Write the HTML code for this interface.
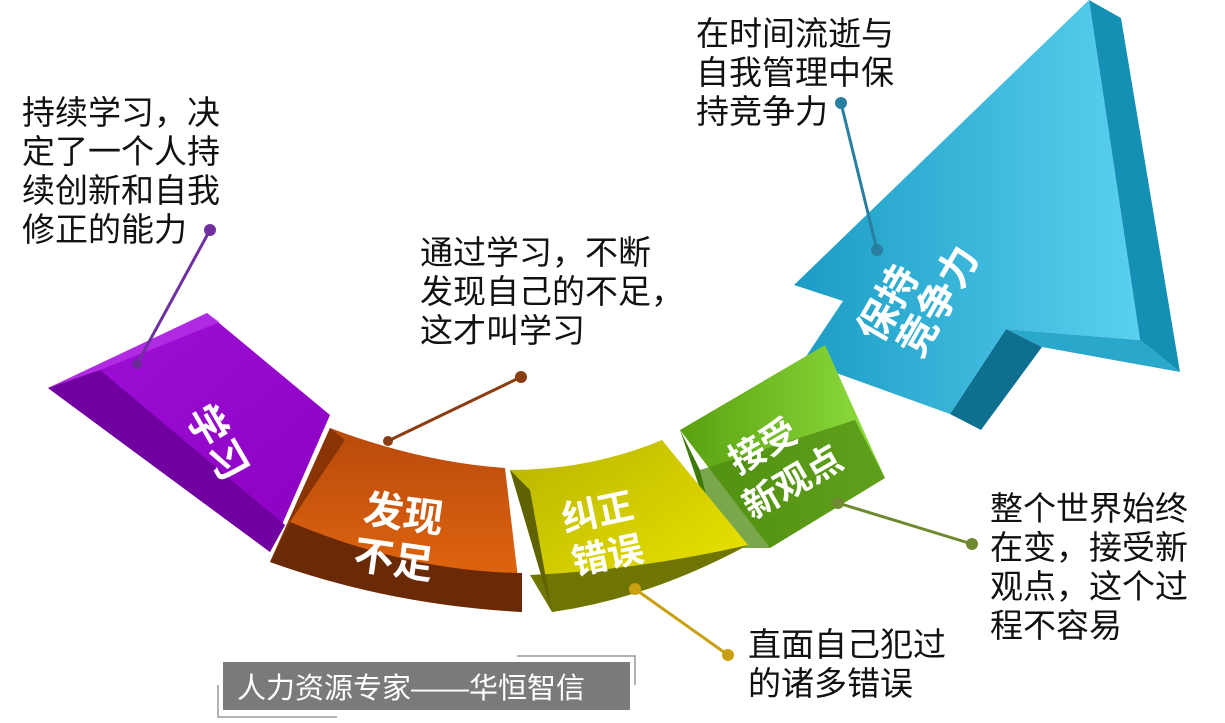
<!DOCTYPE html>
<html><head><meta charset="utf-8"><style>
body{margin:0;width:1225px;height:723px;background:#fff;overflow:hidden;position:relative;font-family:"Liberation Sans","Noto Sans CJK SC",sans-serif}
.t{position:absolute;font-size:33px;line-height:39px;color:#111;white-space:nowrap}
svg{position:absolute;left:0;top:0}
</style></head><body>
<svg width="1225" height="723" viewBox="0 0 1225 723">
<defs>
<linearGradient id="bl" x1="0" y1="0" x2="1" y2="0"><stop offset="0" stop-color="#1b9cc4"/><stop offset="1" stop-color="#5ad0f0"/></linearGradient>
<linearGradient id="pu" x1="0" y1="0" x2="1" y2="1"><stop offset="0" stop-color="#a010d8"/><stop offset="1" stop-color="#8a00c0"/></linearGradient>
<linearGradient id="or" x1="0" y1="0" x2="0" y2="1"><stop offset="0" stop-color="#b84a0c"/><stop offset="1" stop-color="#e86a10"/></linearGradient>
<linearGradient id="ye" x1="0" y1="0" x2="1" y2="1"><stop offset="0" stop-color="#b8b400"/><stop offset="1" stop-color="#f0e800"/></linearGradient>
<linearGradient id="gr" x1="0" y1="0" x2="1" y2="0"><stop offset="0" stop-color="#5aa010"/><stop offset="1" stop-color="#90e040"/></linearGradient>
</defs>
<!-- arrow -->
<polygon points="1089,0 1121,18 1180,372 1140,340" fill="#1590b5"/>
<polygon points="1006,329 1140,340 1180,372 1042,347" fill="#2aa8cc"/>
<polygon points="1006,329 1042,347 981,430 950,414" fill="#0e6f8f"/>
<polygon points="1089,0 1140,340 1006,329 950,414 803,361 843,301 794,285" fill="url(#bl)"/>
<!-- green -->
<polygon points="680,430 825,345 885,478 770,548" fill="url(#gr)"/>
<polygon points="700,470 855,420 885,478 770,548 720,548" fill="#4e8a10" opacity="0.75"/>
<polygon points="680,430 700,470 720,548" fill="#3e7a08"/>
<!-- yellow -->
<path d="M510,470 Q590,470 662,440 L748,545 Q650,598 552,612 Z" fill="url(#ye)"/>
<path d="M530,575 Q640,570 748,545 Q650,598 552,612 Z" fill="#707400"/>
<polygon points="510,470 530,490 552,612" fill="#5e6200"/>
<!-- orange -->
<path d="M330,428 Q420,462 505,468 L522,612 Q390,605 270,562 Z" fill="url(#or)"/>
<path d="M290,522 Q410,572 522,573 L522,612 Q390,605 270,562 Z" fill="#6a2a05"/>
<polygon points="330,428 345,440 290,522 270,562" fill="#8a3406"/>
<!-- purple -->
<polygon points="48,388 207,313 330,415 270,552" fill="url(#pu)"/>
<polygon points="48,388 100,370 285,525 270,552" fill="#7000a0"/>
<polygon points="48,388 207,313 220,322 100,370" fill="#c040f0" opacity="0.6"/>
<!-- connectors -->
<g stroke-width="3">
<line x1="210" y1="230" x2="137" y2="364" stroke="#7030a0"/>
<line x1="521" y1="377" x2="388" y2="441" stroke="#8a3d10"/>
<line x1="635" y1="589" x2="728" y2="655" stroke="#c8a010"/>
<line x1="838" y1="503" x2="972" y2="544" stroke="#6e8a30"/>
<line x1="841" y1="103" x2="877" y2="250" stroke="#2a7fa0"/>
</g>
<circle cx="210" cy="230" r="6" fill="#7030a0"/><circle cx="137" cy="364" r="5" fill="#6a2a98"/>
<circle cx="521" cy="377" r="6" fill="#8a3d10"/><circle cx="388" cy="441" r="5" fill="#8a3d10"/>
<circle cx="635" cy="589" r="6" fill="#c8a010"/><circle cx="728" cy="655" r="6" fill="#c8a010"/>
<circle cx="838" cy="503" r="6" fill="#6e8a30"/><circle cx="972" cy="544" r="6" fill="#6e8a30"/>
<circle cx="841" cy="103" r="6" fill="#2a7fa0"/><circle cx="877" cy="250" r="6" fill="#2a7fa0"/>
<g fill="#fff" font-weight="bold" font-family="Liberation Sans,Noto Sans CJK SC,sans-serif" font-size="40">
<text transform="translate(185,415) rotate(60)">学习</text>
<text transform="translate(362,522) rotate(8)">发现</text>
<text transform="translate(352,568) rotate(8)">不足</text>
<text transform="translate(565,532) rotate(-12)" font-size="36">纠正</text>
<text transform="translate(575,575) rotate(-12)" font-size="36">错误</text>
<text transform="translate(738,475) rotate(-30)" font-size="36">接受</text>
<text transform="translate(752,520) rotate(-30)" font-size="36">新观点</text>
<text transform="translate(880,345) rotate(-60)" font-size="40">保持</text>
<text transform="translate(920,360) rotate(-60)" font-size="40">竞争力</text>
</g>
<rect x="223" y="662" width="407" height="48" fill="#7a7a7a"/>
<polyline points="218,685 218,717 337,717" fill="none" stroke="#999" stroke-width="1.5"/>
<polyline points="517,656 635,656 635,685" fill="none" stroke="#999" stroke-width="1.5"/>
<text x="237" y="698" fill="#fff" font-size="29" font-family="Liberation Sans,Noto Sans CJK SC,sans-serif">人力资源专家——华恒智信</text>
</svg>
<div class="t" style="left:22px;top:93px">持续学习，决<br>定了一个人持<br>续创新和自我<br>修正的能力</div>
<div class="t" style="left:420px;top:233px">通过学习，不断<br>发现自己的不足，<br>这才叫学习</div>
<div class="t" style="left:696px;top:14px">在时间流逝与<br>自我管理中保<br>持竞争力</div>
<div class="t" style="left:990px;top:489px">整个世界始终<br>在变，接受新<br>观点，这个过<br>程不容易</div>
<div class="t" style="left:748px;top:625px">直面自己犯过<br>的诸多错误</div>
</body></html>
